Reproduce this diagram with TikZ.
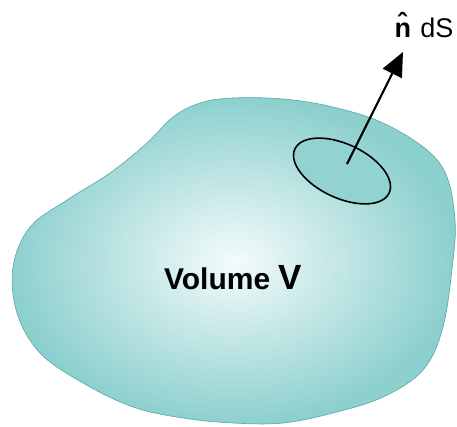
\documentclass[tikz,border=0pt]{standalone}
\usepackage{fontspec}
\setmainfont{Liberation Sans}
\usetikzlibrary{shapes.geometric,arrows.meta}
\definecolor{blobedge}{RGB}{88,168,166}
\definecolor{blobout}{RGB}{140,208,206}
\definecolor{blobin}{RGB}{244,251,251}
\definecolor{patchfill}{RGB}{146,210,208}
\begin{document}
\begin{tikzpicture}[
    x=1pt, y=-1pt,
    blob/.style={draw=blobedge, line width=0.6pt, inner color=blobin, outer color=blobout},
    patch/.style={ellipse, line width=1.6pt, fill=patchfill, draw, minimum width=104pt, minimum height=54pt, rotate=-25},
    normal/.style={line width=2.2pt, -{Triangle[length=24pt,width=21pt]}},
    lbl/.style={font=\fontsize{27}{30}\selectfont}
]
\useasboundingbox (0,0) rectangle (457,426);

% Volume outline
\shade[blob] plot[smooth cycle, tension=0.6] coordinates {
    (233,98) (283,99) (333,107) (383,123) (427,150) (447,177) (455,220)
    (453,260) (443,327) (423,370) (383,397) (333,413) (283,423) (233,423)
    (183,418) (133,407) (83,383) (40,353) (17,313) (13,267) (30,227)
    (67,200) (110,173) (147,143) (173,117) (200,103)};

% Surface element
\node[patch] (dS) at (342,171) {};
\coordinate (base) at (347,164);
\coordinate (tip) at (403,52);
\draw[normal] (base) -- (tip);

% Labels
\node[lbl, anchor=base, inner sep=0pt] (ndS) at (424,37) {\textbf{\^{n}}\,dS};
\node[anchor=base] (vol) at (233,289) {\bfseries\fontsize{30}{34}\selectfont Volume {\fontsize{35}{38}\selectfont V}};

\end{tikzpicture}
\end{document}
